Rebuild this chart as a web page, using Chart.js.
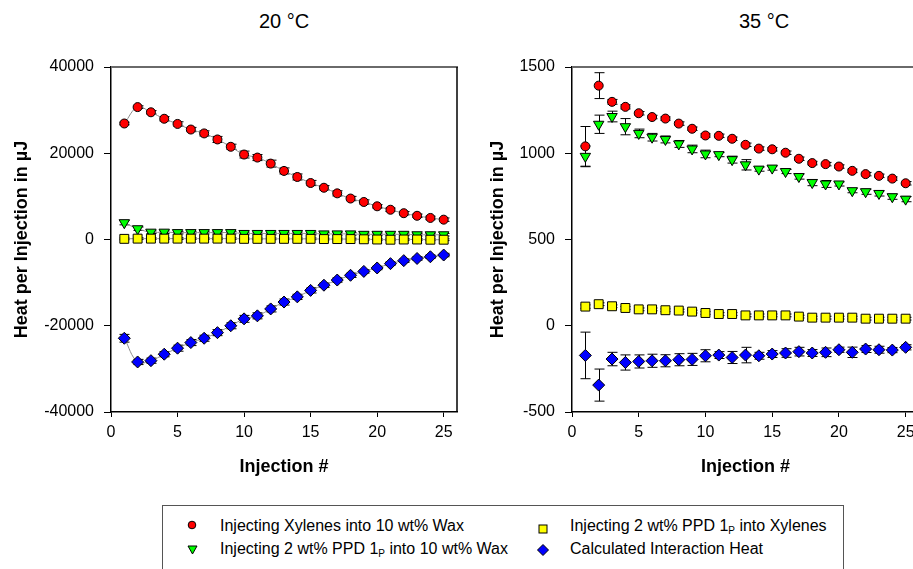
<!DOCTYPE html>
<html>
<head>
<meta charset="utf-8">
<script src="https://cdn.jsdelivr.net/npm/chart.js@4.4.1/dist/chart.umd.min.js"></script>
<style>
  body { margin: 0; width: 913px; height: 569px; overflow: hidden; background: #fff; position: relative;
         font-family: "Liberation Sans", Arial, sans-serif; color: #000; }
  .panel { position: absolute; top: 0; height: 500px; }
  .title { position: absolute; top: 10px; font-size: 20px; transform: translateX(-50%); white-space: nowrap; }
  #legend { position: absolute; left: 162px; top: 505px; width: 680px; height: 80px; border: 1px solid #555; }
  .txt { position: absolute; font-size: 16px; line-height: 20px; white-space: nowrap; }
  .txt sub { font-size: 10px; vertical-align: -3px; }
  .mk { position: absolute; }
</style>
</head>
<body>
<div class="title" style="left:284px">20 °C</div>
<div class="title" style="left:764px">35 °C</div>
<canvas id="c20" class="panel" style="left:0px" width="480" height="500"></canvas>
<canvas id="c35" class="panel" style="left:476px" width="460" height="500"></canvas>

<div id="legend">
  <svg class="mk" style="left:24px;top:14px" width="10" height="10"><circle cx="5" cy="5" r="3.8" fill="#ff0000" stroke="#000" stroke-width="1"/></svg>
  <div class="txt" style="left:57px;top:10px">Injecting Xylenes into 10 wt% Wax</div>
  <svg class="mk" style="left:24px;top:38px" width="11" height="11"><polygon points="1,2 10,2 5.5,10" fill="#00ff00" stroke="#000" stroke-width="1"/></svg>
  <div class="txt" style="left:57px;top:33px">Injecting 2 wt% PPD 1<sub>P</sub> into 10 wt% Wax</div>
  <svg class="mk" style="left:375px;top:18px" width="10" height="10"><rect x="1" y="1" width="8" height="8" fill="#ffff00" stroke="#000" stroke-width="1"/></svg>
  <div class="txt" style="left:407px;top:10px">Injecting 2 wt% PPD 1<sub>P</sub> into Xylenes</div>
  <svg class="mk" style="left:374px;top:38px" width="12" height="12"><polygon points="6,0.5 11.5,6 6,11.5 0.5,6" fill="#0000ff" stroke="#000" stroke-width="1"/></svg>
  <div class="txt" style="left:407px;top:33px">Calculated Interaction Heat</div>
</div>

<script>
// injection number
const injections = [1, 2, 3, 4, 5, 6, 7, 8, 9, 10, 11, 12, 13, 14, 15, 16, 17, 18, 19, 20, 21, 22, 23, 24, 25];

// 20 °C
const xylWax20 = [26900, 30700, 29500, 28000, 26800, 25500, 24600, 23200, 21500, 19700, 19000, 17600, 15900, 14500, 13100, 12000, 10700, 9500, 8700, 7700, 6900, 6100, 5500, 5000, 4600];
const xylWax20Err = [300, 300, 400, 500, 500, 500, 600, 700, 600, 800, 700, 800, 700, 700, 600, 500, 600, 500, 500, 400, 400, 400, 400, 400, 400];
const ppdWax20 = [3900, 2500, 1700, 1700, 1600, 1600, 1600, 1600, 1600, 1400, 1400, 1400, 1400, 1400, 1400, 1300, 1300, 1300, 1200, 1200, 1200, 1200, 1100, 1100, 1100];
const ppdWax20Err = [500, 400, 300, 300, 300, 300, 300, 300, 300, 300, 300, 300, 300, 300, 300, 300, 300, 300, 300, 300, 300, 300, 300, 300, 300];
const ppdXyl20 = [150, 200, 200, 200, 200, 200, 200, 200, 200, 150, 150, 150, 150, 150, 150, 100, 100, 100, 50, 0, -50, 0, 0, -50, -50];
const ppdXyl20Err = [200, 200, 200, 200, 200, 200, 200, 200, 200, 200, 200, 200, 200, 200, 200, 200, 200, 200, 200, 200, 200, 200, 200, 200, 200];
const interact20 = [-22900, -28400, -28100, -26600, -25200, -23900, -22900, -21600, -20000, -18400, -17700, -16100, -14500, -13300, -11800, -10600, -9400, -8300, -7400, -6600, -5600, -4900, -4400, -4000, -3600];
const interact20Err = [900, 600, 600, 600, 700, 700, 700, 700, 700, 800, 700, 700, 700, 600, 600, 500, 500, 500, 400, 400, 400, 400, 400, 400, 400];

// 35 °C
const xylWax35 = [1040, 1392, 1298, 1269, 1232, 1210, 1201, 1172, 1142, 1103, 1101, 1084, 1049, 1027, 1023, 1003, 968, 943, 937, 923, 898, 879, 869, 853, 826];
const xylWax35Err = [115, 75, 14, 12, 10, 10, 10, 10, 10, 10, 10, 10, 10, 10, 10, 10, 10, 10, 10, 10, 10, 10, 10, 10, 10];
const ppdWax35 = [982, 1168, 1213, 1154, 1115, 1093, 1080, 1054, 1025, 996, 992, 963, 933, 908, 914, 894, 865, 830, 822, 822, 783, 777, 767, 748, 734];
const ppdWax35Err = [60, 53, 31, 47, 25, 22, 20, 20, 22, 22, 12, 20, 30, 12, 12, 12, 15, 18, 20, 12, 12, 15, 15, 15, 15];
const ppdXyl35 = [111, 125, 113, 103, 95, 95, 90, 88, 82, 74, 68, 68, 60, 60, 60, 60, 53, 47, 47, 47, 47, 41, 41, 41, 41];
const ppdXyl35Err = [10, 8, 8, 8, 8, 8, 8, 8, 8, 8, 8, 8, 8, 8, 8, 8, 8, 8, 8, 8, 8, 8, 8, 8, 8];
const interact35 = [-172, -344, -193, -213, -207, -203, -203, -197, -195, -174, -170, -184, -170, -174, -164, -158, -150, -158, -154, -139, -154, -135, -139, -141, -125];
const interact35Err = [135, 93, 39, 44, 38, 38, 35, 35, 35, 35, 20, 35, 45, 20, 20, 25, 25, 20, 25, 15, 30, 20, 20, 15, 15];

const yTicks20 = { min: -40000, max: 40000, step: 20000 };
const yTicks35 = { min: -500, max: 1500, step: 500 };

const pts = (vals) => vals.map((v, i) => ({ x: injections[i], y: v }));

// error bars drawn under the markers
const errorBars = {
  id: 'errorBars',
  beforeDatasetsDraw(chart) {
    const ctx = chart.ctx;
    const ys = chart.scales.y;
    ctx.save();
    ctx.strokeStyle = '#000';
    ctx.lineWidth = 1;
    chart.data.datasets.forEach((ds, i) => {
      if (!ds.errors) return;
      chart.getDatasetMeta(i).data.forEach((el, j) => {
        const v = ds.data[j].y, e = ds.errors[j];
        const x = Math.round(el.x) + 0.5;
        const y1 = ys.getPixelForValue(v + e), y2 = ys.getPixelForValue(v - e);
        ctx.beginPath();
        ctx.moveTo(x, y1); ctx.lineTo(x, y2);
        ctx.moveTo(x - 5, y1); ctx.lineTo(x + 5, y1);
        ctx.moveTo(x - 5, y2); ctx.lineTo(x + 5, y2);
        ctx.stroke();
      });
    });
    ctx.restore();
  }
};

// gray top line, black right line
const frame = {
  id: 'frame',
  afterDraw(chart, args, opts) {
    const { ctx, chartArea: a } = chart;
    ctx.save();
    ctx.strokeStyle = '#6a6a6a';
    ctx.lineWidth = 2;
    ctx.beginPath();
    ctx.moveTo(a.left, a.top); ctx.lineTo(a.right + 1, a.top);
    ctx.stroke();
    if (opts.right) {
      ctx.strokeStyle = '#000';
      ctx.lineWidth = 1.5;
      ctx.beginPath();
      ctx.moveTo(a.right, a.top); ctx.lineTo(a.right, a.bottom);
      ctx.stroke();
    }
    ctx.restore();
  }
};

function makeChart(id, series, yt, yWidth, padRight, lines) {
  const styles = [
    { label: 'Injecting Xylenes into 10 wt% Wax', pointStyle: 'circle', radius: 4.5, color: '#ff0000', rot: 0, order: 4 },
    { label: 'Injecting 2 wt% PPD 1P into 10 wt% Wax', pointStyle: 'triangle', radius: 6, color: '#00ff00', rot: 180, order: 3 },
    { label: 'Injecting 2 wt% PPD 1P into Xylenes', pointStyle: 'rect', radius: 6.3, color: '#ffff00', rot: 0, order: 2 },
    { label: 'Calculated Interaction Heat', pointStyle: 'rectRot', radius: 6, color: '#0000ff', rot: 0, order: 1 }
  ];
  return new Chart(document.getElementById(id), {
    type: 'scatter',
    data: {
      datasets: series.map((s, i) => ({
        label: styles[i].label,
        data: pts(s[0]),
        errors: s[1],
        pointStyle: styles[i].pointStyle,
        pointRadius: styles[i].radius,
        pointHoverRadius: styles[i].radius,
        pointRotation: styles[i].rot,
        pointBackgroundColor: styles[i].color,
        pointBorderColor: '#000',
        pointBorderWidth: 1,
        showLine: lines,
        borderColor: '#8c8c8c',
        borderWidth: 1,
        tension: 0.4,
        order: styles[i].order
      }))
    },
    options: {
      responsive: false,
      animation: false,
      layout: { padding: { top: 67, right: padRight, bottom: 0, left: 0 } },
      plugins: { legend: { display: false }, tooltip: { enabled: false }, frame: { right: lines } },
      scales: {
        x: {
          type: 'linear', min: 0, max: 26,
          afterFit: (s) => { s.height = 88; },
          ticks: { stepSize: 5, includeBounds: false, padding: 6, color: '#000',
                   font: { family: '"Liberation Sans", Arial', size: 16 } },
          grid: { drawOnChartArea: false, drawTicks: true, tickLength: 5, color: '#000' },
          border: { color: '#000', width: 1.5 },
          title: { display: true, text: 'Injection #', color: '#000', padding: { top: 0, bottom: 22 },
                   font: { family: '"Liberation Sans", Arial', size: 18, weight: 'bold' } }
        },
        y: {
          min: yt.min, max: yt.max,
          afterFit: (s) => { s.width = yWidth; },
          ticks: { stepSize: yt.step, padding: 10, color: '#000', callback: (v) => String(v),
                   font: { family: '"Liberation Sans", Arial', size: 16 } },
          grid: { drawOnChartArea: false, drawTicks: true, tickLength: 7, color: '#000' },
          border: { color: '#000', width: 1.5 },
          title: { display: true, text: 'Heat per Injection in µJ', color: '#000', padding: { top: 11, bottom: 0 },
                   font: { family: '"Liberation Sans", Arial', size: 18, weight: 'bold' } }
        }
      }
    },
    plugins: [errorBars, frame]
  });
}

makeChart('c20', [
  [xylWax20, xylWax20Err], [ppdWax20, ppdWax20Err], [ppdXyl20, ppdXyl20Err], [interact20, interact20Err]
], yTicks20, 111, 23, true);

makeChart('c35', [
  [xylWax35, xylWax35Err], [ppdWax35, ppdWax35Err], [ppdXyl35, ppdXyl35Err], [interact35, interact35Err]
], yTicks35, 96, 17, false);
</script>
</body>
</html>
